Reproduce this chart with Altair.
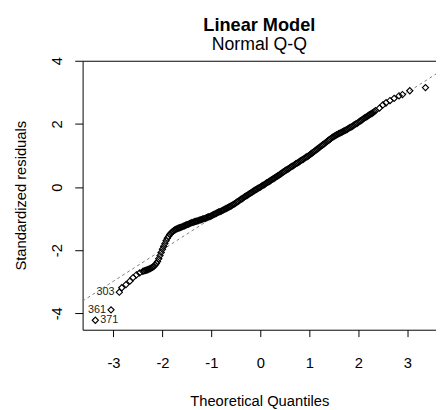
import altair as alt
import pandas as pd

# Q-Q points (theoretical quantile, standardized residual)
qx = [-3.37, -3.05, -2.88, -2.83, -2.745, -2.665, -2.60, -2.53, -2.465,
      -2.40, -2.35, -2.30, -2.25, -2.20, -2.15, -2.10, -2.05, -2.00, -1.95,
      -1.90, -1.85, -1.80, -1.75, -1.70, -1.65, -1.60, -1.55, -1.50, -1.45,
      -1.40, -1.35, -1.30, -1.25, -1.20, -1.15, -1.10, -1.05, -1.00, -0.95,
      -0.90, -0.85, -0.80, -0.75, -0.70, -0.65, -0.60, -0.55, -0.50, -0.45,
      -0.40, -0.35, -0.30, -0.25, -0.20, -0.15, -0.10, -0.05, 0.00, 0.05,
      0.10, 0.15, 0.20, 0.25, 0.30, 0.35, 0.40, 0.45, 0.50, 0.55,
      0.60, 0.65, 0.70, 0.75, 0.80, 0.85, 0.90, 0.95, 1.00, 1.05,
      1.10, 1.15, 1.20, 1.25, 1.30, 1.35, 1.40, 1.45, 1.50, 1.55,
      1.60, 1.65, 1.70, 1.75, 1.80, 1.85, 1.90, 1.95, 2.00, 2.05,
      2.10, 2.15, 2.20, 2.25, 2.30, 2.35,
      2.43, 2.50, 2.565, 2.645, 2.73, 2.83, 2.90, 3.05, 3.37]
qy = [-4.22, -3.89, -3.33, -3.19, -3.09, -2.98, -2.87, -2.78, -2.72,
      -2.67, -2.64, -2.62, -2.58, -2.54, -2.47, -2.36, -2.17, -1.97, -1.79,
      -1.62, -1.50, -1.42, -1.36, -1.32, -1.29, -1.26, -1.23, -1.19, -1.16,
      -1.13, -1.10, -1.08, -1.05, -1.03, -1.00, -0.97, -0.94, -0.91, -0.87,
      -0.83, -0.79, -0.76, -0.72, -0.68, -0.64, -0.60, -0.55, -0.50, -0.45,
      -0.39, -0.34, -0.29, -0.24, -0.19, -0.14, -0.09, -0.04, 0.00, 0.05,
      0.10, 0.15, 0.20, 0.25, 0.30, 0.35, 0.40, 0.46, 0.51, 0.56,
      0.61, 0.66, 0.71, 0.76, 0.81, 0.86, 0.91, 0.96, 1.01, 1.07,
      1.13, 1.19, 1.25, 1.31, 1.37, 1.43, 1.49, 1.55, 1.60, 1.65,
      1.69, 1.73, 1.77, 1.81, 1.86, 1.90, 1.95, 2.00, 2.05, 2.10,
      2.16, 2.21, 2.26, 2.31, 2.36, 2.42,
      2.50, 2.60, 2.67, 2.74, 2.81, 2.89, 2.93, 3.05, 3.15]

# further points inside the dense black band
bx = [-2.375, -2.325, -2.275, -2.225, -2.175, -2.125, -2.075, -2.025, -1.975,
      -1.925, -1.875, -1.825, -1.775, -1.725, -1.675, -1.625, -1.575, -1.525,
      -1.475, -1.425, -1.375, -1.325, -1.275, -1.225, -1.175, -1.125, -1.075,
      -1.025, -0.975, -0.925, -0.875, -0.825, -0.775, -0.725, -0.675, -0.625,
      -0.575, -0.525, -0.475, -0.425, -0.375, -0.325, -0.275, -0.225, -0.175,
      -0.125, -0.075, -0.025, 0.025, 0.075, 0.125, 0.175, 0.225, 0.275,
      0.325, 0.375, 0.425, 0.475, 0.525, 0.575, 0.625, 0.675, 0.725,
      0.775, 0.825, 0.875, 0.925, 0.975, 1.025, 1.075, 1.125, 1.175,
      1.225, 1.275, 1.325, 1.375, 1.425, 1.475, 1.525, 1.575, 1.625,
      1.675, 1.725, 1.775, 1.825, 1.875, 1.925, 1.975, 2.025, 2.075,
      2.125, 2.175, 2.225, 2.275, 2.325]
by = [-2.655, -2.63, -2.60, -2.56, -2.51, -2.42, -2.27, -2.07, -1.88,
      -1.70, -1.56, -1.46, -1.39, -1.34, -1.30, -1.28, -1.24, -1.21,
      -1.18, -1.14, -1.12, -1.09, -1.07, -1.04, -1.01, -0.99, -0.95,
      -0.93, -0.89, -0.85, -0.81, -0.78, -0.74, -0.70, -0.66, -0.62,
      -0.57, -0.53, -0.47, -0.42, -0.37, -0.31, -0.27, -0.21, -0.17,
      -0.11, -0.07, -0.02, 0.03, 0.07, 0.13, 0.17, 0.23, 0.27,
      0.33, 0.37, 0.43, 0.48, 0.54, 0.58, 0.64, 0.68, 0.74,
      0.78, 0.84, 0.88, 0.94, 0.98, 1.04, 1.10, 1.16, 1.22,
      1.28, 1.34, 1.40, 1.46, 1.52, 1.58, 1.63, 1.67, 1.71,
      1.75, 1.79, 1.83, 1.88, 1.92, 1.98, 2.02, 2.08, 2.13,
      2.19, 2.23, 2.29, 2.33, 2.39]

# labelled observations
lab_x = [-3.37, -3.05, -2.88]
lab_y = [-4.22, -3.89, -3.33]
lab_text = ["371", "361", "303"]
lab_side = ["right", "left", "left"]

# reference (qq) line end points
line_x = [-3.63, 3.585]
line_y = [-3.61, 3.58]

x_ticks = [-3, -2, -1, 0, 1, 2, 3]
y_ticks = [-4, -2, 0, 2, 4]

pts = pd.DataFrame({"x": qx + bx, "y": qy + by})
labs = pd.DataFrame({"x": lab_x, "y": lab_y, "t": lab_text, "side": lab_side})
ln = pd.DataFrame({"x": line_x, "y": line_y})

FONT = "Liberation Sans"
xs = alt.Scale(domain=[-3.63, 3.585], nice=False, zero=False)
ys = alt.Scale(domain=[-4.52, 4.0], nice=False, zero=False)
HYPHEN = "datum.value + ''"

x_bottom = alt.Axis(orient="bottom", values=x_ticks, title="Theoretical Quantiles", grid=False,
                    labelFlush=False, labelOverlap=False, tickSize=7, labelExpr=HYPHEN,
                    labelPadding=19, titlePadding=24)
y_left = alt.Axis(values=y_ticks, title="Standardized residuals", grid=False,
                  labelFlush=False, labelOverlap=False, tickSize=8, labelExpr=HYPHEN,
                  labelAngle=270, labelAlign="center", labelBaseline="alphabetic",
                  labelPadding=13, titlePadding=22)
x_top = alt.Axis(orient="top", labels=False, ticks=False, title=None, grid=False)

line = alt.Chart(ln).mark_line(color="#808080", strokeDash=[3, 3], strokeWidth=1, clip=True).encode(
    x=alt.X("x:Q", scale=xs, axis=x_top),
    y=alt.Y("y:Q", scale=ys, axis=y_left),
)

points = alt.Chart(pts).mark_point(shape="diamond", filled=False, color="black",
                                   size=40, strokeWidth=1.15, opacity=1, clip=True).encode(
    x=alt.X("x:Q", scale=xs, axis=x_bottom),
    y=alt.Y("y:Q", scale=ys, axis=y_left),
)

txt_left = alt.Chart(labs).transform_filter(alt.datum.side == "left").mark_text(
    align="right", baseline="middle", dx=-5, fontSize=11, font=FONT, color="#222222").encode(
    x=alt.X("x:Q", scale=xs, axis=None), y=alt.Y("y:Q", scale=ys, axis=y_left), text="t:N")
txt_right = alt.Chart(labs).transform_filter(alt.datum.side == "right").mark_text(
    align="left", baseline="middle", dx=5, fontSize=11, font=FONT, color="#222222").encode(
    x=alt.X("x:Q", scale=xs, axis=None), y=alt.Y("y:Q", scale=ys, axis=y_left), text="t:N")

chart = alt.layer(line, points, txt_left, txt_right).resolve_axis(x="independent").properties(
    width=360, height=274,
    autosize=alt.AutoSizeParams(type="none"),
    padding={"left": 76, "top": 50, "right": 0, "bottom": 78},
    title=alt.TitleParams("Linear Model", subtitle="Normal Q-Q", anchor="middle",
                          font=FONT, fontSize=18.5, fontWeight="bold", color="black",
                          subtitleFont=FONT, subtitleFontSize=18, subtitleColor="black",
                          subtitlePadding=2, offset=3),
).configure_view(stroke=None).configure_axis(
    domainColor="black", tickColor="black", labelColor="black", titleColor="black",
    labelFont=FONT, titleFont=FONT, labelFontSize=15, titleFontSize=15,
    titleFontWeight="normal", domainWidth=1, tickWidth=1,
)

chart.save("out.html", embed_options={"renderer": "svg", "actions": False})
